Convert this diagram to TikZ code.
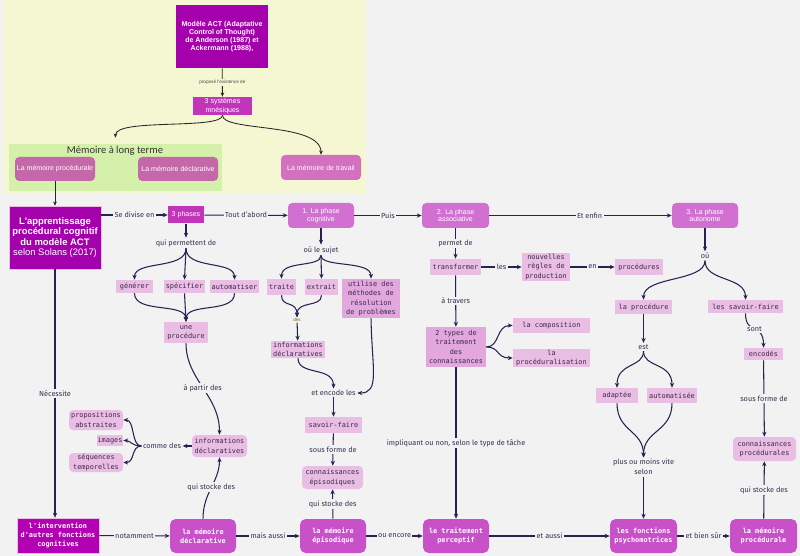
\documentclass[tikz,border=0pt]{standalone}
\usepackage{fontspec}
\setmainfont{Fira Sans}
\newfontfamily\boxfont{DejaVu Sans Mono}
\newfontfamily\arialfont{Liberation Sans}
\newfontfamily\regionfont{Carlito}
\usetikzlibrary{arrows.meta}

\definecolor{bgcol}{RGB}{242,242,242}
\definecolor{yellowbg}{RGB}{245,246,210}
\definecolor{greenbg}{RGB}{212,240,170}
\definecolor{deeppurple}{RGB}{164,0,172}
\definecolor{midpurple}{RGB}{194,52,186}
\definecolor{mauve}{RGB}{196,104,170}
\definecolor{travcol}{RGB}{212,112,192}
\definecolor{phasecol}{RGB}{210,112,210}
\definecolor{memcol}{RGB}{200,80,200}
\definecolor{intervcol}{RGB}{178,0,178}
\definecolor{pinklt}{RGB}{234,190,228}
\definecolor{pinkmid}{RGB}{226,168,222}
\definecolor{boxtext}{RGB}{58,40,72}
\definecolor{linkcol}{RGB}{42,32,82}
\definecolor{labelcol}{RGB}{56,48,80}

\newcommand{\pxu}{0.025cm}

\tikzset{
  sz/.style 2 args={minimum width=#1*\pxu, minimum height=#2*\pxu},
  conn/.style={draw=linkcol, line width=0.75pt, -{Stealth[length=3.5pt,width=3pt]}},
  link/.style={draw=linkcol, line width=0.75pt},
  topconn/.style={draw=black!85, line width=0.6pt, -{Stealth[length=3pt,width=2.6pt]}},
  lbl/.style={fill=bgcol, text=labelcol, inner sep=1pt, align=center, font=\fontsize{5.2}{7}\selectfont},
  tinylbl/.style={fill=bgcol, text=brown!70!black, inner sep=0.5pt, font=\arialfont\fontsize{3.3}{4}\selectfont},
  toplbl/.style={fill=yellowbg, text=black!70, inner sep=1pt, font=\arialfont\fontsize{3.3}{4}\selectfont},
  darkbox/.style={fill=deeppurple, text=white, inner sep=0pt, align=center, font=\arialfont\bfseries\fontsize{5}{5.7}\selectfont},
  sysbox/.style={fill=midpurple, text=white, inner sep=0pt, align=center, font=\arialfont\fontsize{5}{6}\selectfont},
  membox/.style={fill=mauve, text=white, rounded corners=3pt, inner sep=0pt, align=center, font=\arialfont\fontsize{5}{6}\selectfont},
  phasebox/.style={fill=phasecol, text=white, rounded corners=3pt, inner sep=0pt, align=center, font=\arialfont\fontsize{5}{5.5}\selectfont},
  pinkbox/.style={fill=pinklt, text=boxtext, inner sep=0pt, align=center, font=\boxfont\fontsize{4.9}{6.6}\selectfont},
  bottombox/.style={fill=memcol, text=white, rounded corners=4pt, inner sep=0pt, align=center, font=\boxfont\bfseries\fontsize{4.9}{6.6}\selectfont},
}

\begin{document}
\begin{tikzpicture}[x=\pxu, y=-\pxu]

	% background
	\fill[bgcol] (0,0) rectangle (800,556);
	\useasboundingbox (0,0) rectangle (800,556);
	\fill[yellowbg] (3,0) rectangle (366,193);

	% model and memory systems
	\node[darkbox, sz={92}{63}] (act) at (222,36.5) {Modèle ACT (Adaptative\\Control of Thought)\\de Anderson (1987) et\\Ackermann (1988),};
	\node[sysbox, sz={59}{18}] (sys3) at (222.5,106) {3 systèmes\\mnésiques};
	\node[fill=greenbg, sz={213}{47}, inner sep=0pt] (lterm) at (115.5,167.5) {};
	\node[text=black!80, font=\regionfont\fontsize{7.5}{9}\selectfont] (ltermtitle) at (115,151) {Mémoire à long terme};
	\node[membox, sz={80}{24}] (mproc) at (55,169) {La mémoire procédurale};
	\node[membox, sz={80}{24}] (mdecl) at (178,169) {La mémoire déclarative};
	\node[membox, fill=travcol, sz={80}{25}] (mtrav) at (321,167.5) {La mémoire de travail};

	\draw[topconn] (act) -- node[toplbl] (l-exist) {proposé l'existence de} (sys3);
	\draw[topconn] (sys3.south) .. controls (222,130) and (115,118) .. ([yshift=4.3pt]lterm.north);
	\draw[topconn] (sys3.south) .. controls (222,132) and (321,122) .. (mtrav.north);

	% main row
	\node[darkbox, draw=pinklt, line width=0.4pt, sz={92}{63}, font=\arialfont\bfseries\fontsize{6.7}{7.3}\selectfont] (appr) at (55,237.5) {L'apprentissage\\procédural cognitif\\du modèle ACT\\{\mdseries selon Solans (2017)}};
	\node[sysbox, sz={36}{17}] (ph3) at (186,215) {3 phases};
	\node[phasebox, sz={66}{25}] (cog) at (321,215.5) {1. La phase\\cognitive};
	\node[phasebox, sz={67}{25}] (asso) at (455.5,215.5) {2. La phase\\associative};
	\node[phasebox, sz={66}{25}] (auto) at (705,215.5) {3. La phase\\autonome};

	\draw[conn] (appr.east |- ph3) -- node[lbl] (l-div) {Se divise en} (ph3);
	\draw[conn] (ph3) -- node[lbl] (l-abord) {Tout d'abord} (cog);
	\draw[conn] (cog) -- node[lbl] (l-puis) {Puis} (asso);
	\draw[conn] (asso) -- node[lbl, pos=0.55] (l-enfin) {Et enfin} (auto);
	\draw[topconn] (mproc) -- (appr);

	% the three phases
	\node[lbl] (qpd) at (186,243) {qui permettent de};
	\node[pinkbox, sz={37}{13}] (gen) at (134.5,286.5) {générer};
	\node[pinkbox, sz={41}{13}] (spe) at (184.5,286.5) {spécifier};
	\node[pinkbox, sz={49}{13}] (autz) at (234.5,286.5) {automatiser};
	\node[pinkbox, sz={44}{21}] (proc1) at (186,332.5) {une\\procédure};
	\node[pinkbox, rounded corners=3pt, sz={55}{22}] (infd2) at (219.5,446) {informations\\déclaratives};
	\node[lbl] (comme) at (162,446) {comme des};
	\node[pinkbox, rounded corners=3pt, sz={54}{20}] (propo) at (96,420) {propositions\\abstraites};
	\node[pinkbox, sz={26}{11}] (imgs) at (110,440.5) {images};
	\node[pinkbox, rounded corners=3pt, sz={54}{19}] (seqs) at (96,462.5) {séquences\\temporelles};

	\draw[conn] (ph3) -- (qpd);
	\draw[conn] (qpd.south) .. controls (186,270) and (134.5,260) .. (gen.north);
	\draw[conn] (qpd.south) -- (spe.north);
	\draw[conn] (qpd.south) .. controls (186,270) and (234.5,260) .. (autz.north);
	\draw[conn] (gen.south) .. controls (134.5,314) and (186,302) .. (proc1.north);
	\draw[conn] (spe.south) -- (proc1.north);
	\draw[conn] (autz.south) .. controls (234.5,314) and (186,302) .. (proc1.north);
	\draw[conn] (proc1.south) .. controls (186,380) and (219.5,395) .. node[lbl] (l-apd) {à partir des} (infd2.north);
	\draw[conn] (infd2.west) -- (comme.east);
	\draw[conn] (comme.west) .. controls (131,446) and (135,420) .. (propo.east);
	\draw[conn] (comme.west) .. controls (132,446) and (130,440.5) .. (imgs.east);
	\draw[conn] (comme.west) .. controls (131,446) and (135,462.5) .. (seqs.east);

	% phase cognitive
	\node[lbl] (ous) at (321,250) {où le sujet};
	\node[pinkbox, sz={29}{16}] (traite) at (281.5,287) {traite};
	\node[pinkbox, sz={33}{16}] (extr) at (321.5,287) {extrait};
	\node[pinkbox, fill=pinkmid, sz={58}{39}] (util) at (371,298.5) {utilise des\\méthodes de\\résolution\\de problèmes};
	\node[tinylbl] (des) at (297,320) {des};
	\node[pinkbox, sz={54}{17}] (infd1) at (298,349.5) {informations\\déclaratives};
	\node[lbl] (encl) at (333.5,393) {et encode les};
	\node[pinkbox, sz={57}{16}] (sf) at (333.5,425) {savoir-faire};
	\node[pinkbox, rounded corners=3pt, sz={61}{23}] (conne) at (332.5,477.5) {connaissances\\épisodiques};

	\draw[conn] (cog) -- (ous);
	\draw[conn] (ous.south) .. controls (321,268) and (281.5,260) .. (traite.north);
	\draw[conn] (ous.south) -- (extr.north);
	\draw[conn] (ous.south) .. controls (321,268) and (371,260) .. (util.north);
	\draw[conn] (traite.south) .. controls (281.5,308) and (297,300) .. (des.north);
	\draw[conn] (extr.south) .. controls (321.5,308) and (297,300) .. (des.north);
	\draw[conn] (des) -- (infd1);
	\draw[conn] (infd1.south) .. controls (298,376) and (333.5,366) .. (encl.north);
	\draw[conn] (util.south) .. controls (372,370) and (380,393) .. (encl.east);
	\draw[conn] (encl) -- (sf);
	\draw[conn] (sf) -- node[lbl] (l-sfd1) {sous forme de} (conne);

	% phase associative
	\node[pinkbox, sz={51}{16}] (transf) at (455.5,267) {transformer};
	\node[pinkbox, sz={48}{28}] (nrp) at (546,267) {nouvelles\\règles de\\production};
	\node[pinkbox, sz={48}{16}] (procs) at (639,267) {procédures};
	\node[pinkbox, fill=pinkmid, sz={60}{40}] (types2) at (456,347) {2 types de\\traitement\\des\\connaissances};
	\node[pinkbox, sz={77}{15}] (compo) at (551.5,325.5) {la composition};
	\node[pinkbox, sz={77}{18}] (procd) at (551.5,358) {la\\procéduralisation};

	\draw[conn] (asso) -- node[lbl] (l-permet) {permet de} (transf);
	\draw[conn] (transf) -- node[lbl] (l-les) {les} (nrp);
	\draw[conn] (nrp) -- node[lbl] (l-en) {en} (procs);
	\draw[conn] (transf) -- node[lbl] (l-travers) {à travers} (types2);
	\draw[conn] (types2.east) .. controls (500,347) and (496,325.5) .. (compo.west);
	\draw[conn] (types2.east) .. controls (500,347) and (496,358) .. (procd.west);

	% phase autonome
	\node[lbl] (oul) at (705,256) {où};
	\node[pinkbox, sz={57}{14}] (lproc) at (643.5,307) {la procédure};
	\node[pinkbox, sz={75}{13}] (lsf) at (745.5,306.5) {les savoir-faire};
	\node[lbl] (est) at (643.5,347) {est};
	\node[pinkbox, sz={42}{15}] (adap) at (617,395.5) {adaptée};
	\node[pinkbox, sz={50}{15}] (autom) at (672,395.5) {automatisée};
	\node[lbl] (plm) at (643.5,467) {plus ou moins vite\\selon};
	\node[pinkbox, sz={39}{12}] (enc) at (763.5,354) {encodés};
	\node[pinkbox, rounded corners=3pt, sz={63}{24}] (cproc) at (764.5,449) {connaissances\\procédurales};

	\draw[conn] (auto) -- (oul);
	\draw[conn] (oul.south) .. controls (705,282) and (643.5,276) .. (lproc.north);
	\draw[conn] (oul.south) .. controls (705,282) and (745.5,276) .. (lsf.north);
	\draw[conn] (lproc) -- (est);
	\draw[conn] (est.south) .. controls (643.5,368) and (617,362) .. (adap.north);
	\draw[conn] (est.south) .. controls (643.5,368) and (672,362) .. (autom.north);
	\draw[conn] (adap.south) .. controls (617,432) and (643.5,430) .. (plm.north);
	\draw[conn] (autom.south) .. controls (672,432) and (643.5,430) .. (plm.north);
	\draw[conn] (lsf.south) .. controls (745.5,336) and (763.5,322) .. node[lbl] (l-sont) {sont} (enc.north);
	\draw[conn] (enc) -- node[lbl] (l-sfd2) {sous forme de} (cproc);

	% bottom row
	\node[darkbox, fill=intervcol, draw=pinklt, line width=0.4pt, sz={82}{35}, font=\boxfont\bfseries\fontsize{4.9}{6.6}\selectfont] (interv) at (58,535.5) {l'intervention\\d'autres fonctions\\cognitives};
	\node[bottombox, sz={66}{34}] (mdecl2) at (203,536) {la mémoire\\déclarative};
	\node[bottombox, sz={66}{34}] (mepi) at (333,536) {la mémoire\\épisodique};
	\node[bottombox, sz={66}{34}] (tperc) at (456,536) {le traitement\\perceptif};
	\node[bottombox, sz={67}{34}] (fpsy) at (643.5,536) {les fonctions\\psychomotrices};
	\node[bottombox, sz={67}{34}] (mproc2) at (763.5,536) {la mémoire\\procédurale};

	\draw[conn] (appr.south) -- node[lbl] (l-nec) {Nécessite} (appr.south |- interv.north);
	\draw[conn] (interv) -- node[lbl] (l-nota) {notamment} (mdecl2);
	\draw[conn] (mdecl2) -- node[lbl] (l-mais) {mais aussi} (mepi);
	\draw[conn] (mepi) -- node[lbl] (l-encore) {ou encore} (tperc);
	\draw[conn] (tperc) -- node[lbl] (l-etaussi) {et aussi} (fpsy);
	\draw[conn] (fpsy) -- node[lbl] (l-bien) {et bien sûr} (mproc2);
	\draw[conn] (mdecl2.north) .. controls (203,492) and (219.5,482) .. node[lbl] (l-stock1) {qui stocke des} (infd2.south);
	\draw[conn] (mepi) -- node[lbl] (l-stock2) {qui stocke des} (conne);
	\draw[conn] (types2) -- node[lbl] (l-impl) {impliquant ou non, selon le type de tâche} (tperc);
	\draw[conn] (plm) -- (fpsy);
	\draw[conn] (mproc2) -- node[lbl] (l-stock3) {qui stocke des} (cproc);

\end{tikzpicture}
\end{document}
